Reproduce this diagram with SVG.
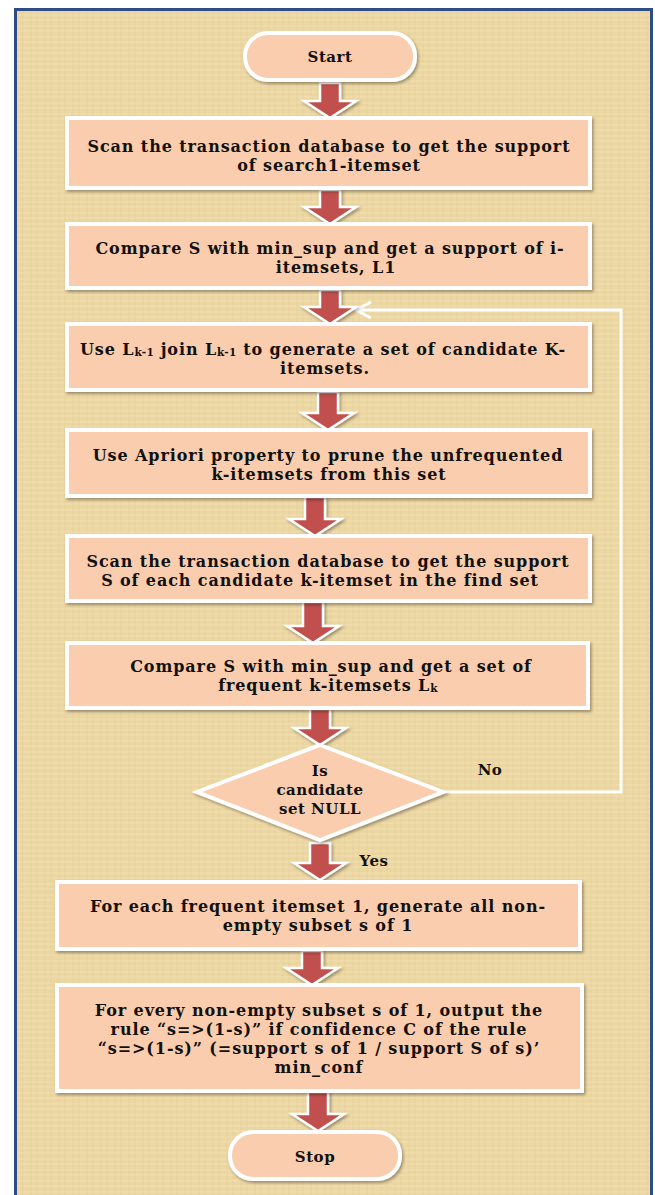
<svg xmlns="http://www.w3.org/2000/svg" width="655" height="1195" viewBox="0 0 655 1195">
<style>
.t{font-family:"DejaVu Serif","Liberation Serif",serif;font-weight:bold;font-size:16px;letter-spacing:0.9px;fill:#111;text-anchor:middle;dominant-baseline:central}
.d{font-size:15px;letter-spacing:0.5px}
.box{fill:#F9CDAD;stroke:#fff;stroke-width:4;filter:url(#sh)}
.arr{fill:#C0504D;stroke:#fff;stroke-width:2.5;stroke-linejoin:miter;filter:url(#sh)}
.loop{fill:none;stroke:#fff;stroke-width:3}
.sub{font-size:10.5px;letter-spacing:0.4px}
</style>
<defs>
<filter id="sh" x="-10%" y="-10%" width="130%" height="140%">
<feDropShadow dx="1.5" dy="2" stdDeviation="1.5" flood-color="#000" flood-opacity="0.35"/>
</filter>
<pattern id="tex" width="14" height="11" patternUnits="userSpaceOnUse">
<rect width="14" height="11" fill="#ECD7A2"/>
<path d="M3,0V11M9,0V11" stroke="#DCC38C" stroke-width="0.8" opacity="0.5"/>
<path d="M0,4H14M0,9H14" stroke="#F4E6BE" stroke-width="1" opacity="0.6"/>
</pattern>
</defs>
<rect width="655" height="1195" fill="#fff"/>
<rect x="15.5" y="9.5" width="636" height="1200" fill="url(#tex)" stroke="#2E4D87" stroke-width="3"/>

<g id="connectors">
<path class="loop" d="M443,792H621V310H357"/>
<polyline class="loop" points="371,302 356,310 371,318"/>
<path class="arr" d="M320,83H340V101H356L330,118L304,101H320Z"/>
<path class="arr" d="M320,190H340V207H356L330,224L304,207H320Z"/>
<path class="arr" d="M320,290H340V307H356L330,324L304,307H320Z"/>
<path class="arr" d="M318,392H338V413H354L328,430L302,413H318Z"/>
<path class="arr" d="M305,497H325V519H341L315,536L289,519H305Z"/>
<path class="arr" d="M303,602H323V626H339L313,643L287,626H303Z"/>
<path class="arr" d="M310,709H330V728H346L320,745L294,728H310Z"/>
<path class="arr" d="M310,843H330V863H346L320,880L294,863H310Z"/>
<path class="arr" d="M302,951H322V968H338L312,985L286,968H302Z"/>
<path class="arr" d="M308,1092H328V1114H344L318,1131L292,1114H308Z"/>
<text class="t d" x="490" y="770">No</text>
<text class="t d" x="374" y="861">Yes</text>
</g>

<g id="start"><rect class="box" x="245" y="33" width="170" height="47" rx="23"/><text class="t d" x="330" y="57">Start</text></g>
<g id="n1"><rect class="box" x="67" y="118" width="523" height="70"/>
<text class="t" x="329" y="146">Scan the transaction database to get the support</text>
<text class="t" x="329" y="165">of search1-itemset</text></g>
<g id="n2"><rect class="box" x="67" y="224" width="523" height="64"/>
<text class="t" x="330" y="248">Compare S with min_sup and get a support of i-</text>
<text class="t" x="336" y="267">itemsets, L1</text></g>
<g id="n3"><rect class="box" x="67" y="324" width="523" height="66"/>
<text class="t" x="323" y="349">Use L<tspan class="sub" dy="3">k-1</tspan><tspan dy="-3"> join L</tspan><tspan class="sub" dy="3">k-1</tspan><tspan dy="-3"> to generate a set of candidate K-</tspan></text>
<text class="t" x="325" y="368">itemsets.</text></g>
<g id="n4"><rect class="box" x="67" y="430" width="523" height="66"/>
<text class="t" x="328" y="455">Use Apriori property to prune the unfrequented</text>
<text class="t" x="329" y="474">k-itemsets from this set</text></g>
<g id="n5"><rect class="box" x="67" y="536" width="523" height="65"/>
<text class="t" x="328" y="561">Scan the transaction database to get the support</text>
<text class="t" x="320" y="580">S of  each candidate k-itemset in the find set</text></g>
<g id="n6"><rect class="box" x="67" y="643" width="521" height="65"/>
<text class="t" x="331" y="666">Compare S with min_sup and get a set of</text>
<text class="t" x="328" y="685">frequent k-itemsets L<tspan class="sub" dy="3">k</tspan></text></g>
<g id="decision"><polygon class="box" points="320,745 443,792 320,840 197,792"/>
<text class="t d" x="320" y="771">Is</text>
<text class="t d" x="320" y="790">candidate</text>
<text class="t d" x="320" y="809">set NULL</text></g>
<g id="n7"><rect class="box" x="57" y="882" width="523" height="67"/>
<text class="t" x="318" y="906">For each frequent itemset 1, generate all non-</text>
<text class="t" x="318" y="925">empty subset s of 1</text></g>
<g id="n8"><rect class="box" x="57" y="985" width="525" height="106"/>
<text class="t" x="319" y="1010">For every non-empty subset s of 1, output the</text>
<text class="t" x="319" y="1029">rule “s=&gt;(1-s)” if confidence C of the rule</text>
<text class="t" x="319" y="1048">“s=&gt;(1-s)” (=support s of 1 / support S of s)’</text>
<text class="t" x="319" y="1067">min_conf</text></g>
<g id="stop"><rect class="box" x="230" y="1132" width="170" height="47" rx="23"/><text class="t d" x="315" y="1157">Stop</text></g>
</svg>
